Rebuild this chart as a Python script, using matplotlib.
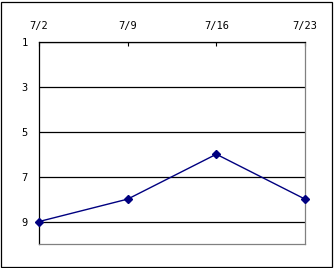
import matplotlib
matplotlib.use("Agg")
import matplotlib.pyplot as plt
from matplotlib.patches import Rectangle

dates = ["7/2", "7/9", "7/16", "7/23"]
ranks = [9, 8, 6, 8]
yticks = [1, 3, 5, 7, 9]

W, H = 334, 268
fig = plt.figure(figsize=(W / 100, H / 100), dpi=100)
fig.patches.append(Rectangle((0.5 / W, 1.5 / H), (W - 2.5) / W, (H - 3) / H,
                             transform=fig.transFigure, fill=False,
                             edgecolor="black", linewidth=0.9))
ax = fig.add_axes([39 / W, 1 - 244 / H, (305 - 39) / W, (244 - 42) / H])

x = list(range(len(dates)))
ax.plot(x, ranks, color="#000080", linewidth=1.0, marker="D",
        markersize=4.5, markerfacecolor="#000080", markeredgecolor="#000080",
        clip_on=False, zorder=3)

ax.set_xlim(0, len(dates) - 1)
ax.set_ylim(10, 1)
ax.set_yticks(yticks)
ax.set_xticks(x)
ax.set_xticklabels(dates)
ax.xaxis.tick_top()
ax.tick_params(axis="x", direction="in", length=3, width=0.8, pad=8,
               labelsize=7.5, color="black")
ax.tick_params(axis="y", length=0, pad=8, labelsize=7.5)
for lbl in ax.get_xticklabels() + ax.get_yticklabels():
    lbl.set_fontfamily("DejaVu Sans Mono")

ax.yaxis.grid(True, color="black", linewidth=0.9)
ax.set_axisbelow(True)
ax.spines["left"].set_color("black")
ax.spines["top"].set_color("black")
ax.spines["right"].set_color("#808080")
ax.spines["bottom"].set_color("#808080")
for s in ax.spines.values():
    s.set_linewidth(0.9)

fig.savefig("out.png", dpi=100)
